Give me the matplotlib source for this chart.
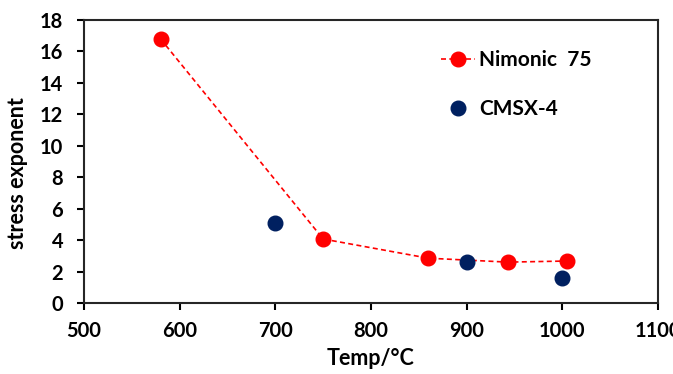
import matplotlib
matplotlib.use("Agg")
import matplotlib.pyplot as plt

nimonic_temp = [580, 750, 860, 943, 1005]
nimonic_n = [16.8, 4.07, 2.85, 2.6, 2.67]
cmsx_temp = [700, 900, 1000]
cmsx_n = [5.1, 2.6, 1.57]
xticks = [500, 600, 700, 800, 900, 1000, 1100]
yticks = [0, 2, 4, 6, 8, 10, 12, 14, 16, 18]

plt.rcParams['font.family'] = ['Lato', 'DejaVu Sans']
plt.rcParams['font.weight'] = 'bold'

fig = plt.figure(figsize=(6.73, 3.74), dpi=100)
ax = fig.add_axes([84/673, 1-303/374, (658-84)/673, (303-20)/374])

ax.plot(nimonic_temp, nimonic_n, color='#FF0000', linestyle=(0, (3, 2)), linewidth=1.2,
        marker='o', markersize=10.5, markerfacecolor='#FF0000', markeredgecolor='#FF0000',
        label='Nimonic  75', zorder=3)
ax.plot(cmsx_temp, cmsx_n, linestyle='none', marker='o', markersize=10.5,
        markerfacecolor='#002060', markeredgecolor='#002060', label='CMSX-4', zorder=3)

ax.set_xlim(500, 1100)
ax.set_ylim(0, 18)
ax.set_xticks(xticks)
ax.set_yticks(yticks)
ax.tick_params(axis='both', direction='out', length=5, width=1.5, labelsize=14.5,
               colors='#000000')
ax.tick_params(axis='x', pad=8)
ax.tick_params(axis='y', pad=10)
for lab in ax.get_xticklabels() + ax.get_yticklabels():
    lab.set_fontweight('bold')
for s in ax.spines.values():
    s.set_linewidth(1.5)
    s.set_color('#262626')

ax.set_xlabel('Temp/°C', fontsize=15.5, fontweight='bold', labelpad=5)
ax.set_ylabel('stress exponent', fontsize=15.5, fontweight='bold')
ax.yaxis.set_label_coords(-0.098, 0.46)

leg = ax.legend(loc='upper left', bbox_to_anchor=(0.59, 0.96), frameon=False, fontsize=15,
                handlelength=1.6, labelspacing=1.4, handletextpad=0.2)
for t in leg.get_texts():
    t.set_fontweight('bold')

fig.savefig('out.png', dpi=100)
